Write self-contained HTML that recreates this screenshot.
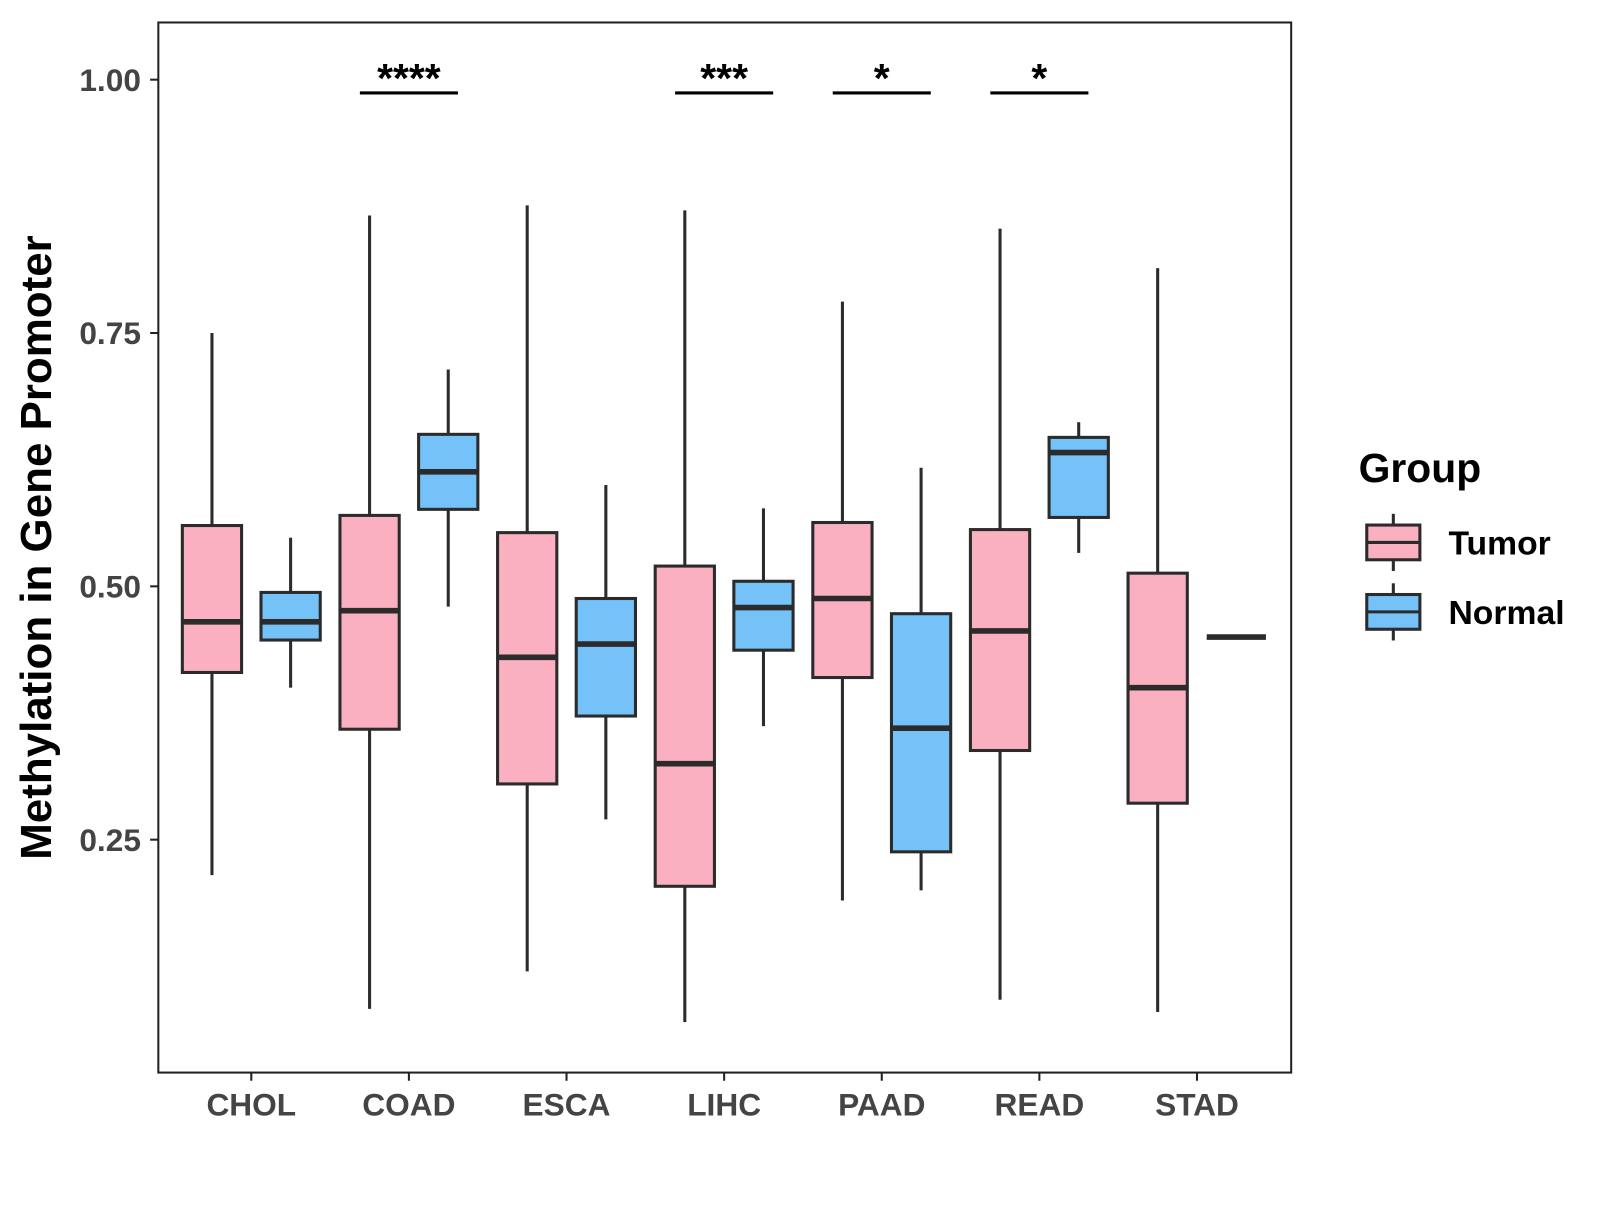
<!DOCTYPE html>
<html><head><meta charset="utf-8"><style>
body{margin:0;background:#fff;width:1600px;height:1200px;overflow:hidden}
text{font-family:"Liberation Sans",Arial,sans-serif;font-weight:bold}
</style></head><body>
<svg width="1600" height="1200" xmlns="http://www.w3.org/2000/svg">
<g id="chart" transform="scale(1.0215)">
<rect x="155" y="22" width="1109" height="1028" fill="#fff" stroke="#222" stroke-width="2"/>
<g id="marks"></g>
<text x="50" y="536" transform="rotate(-90 50 536)" font-size="43" text-anchor="middle" fill="#000">Methylation in Gene Promoter</text>
<text x="1330" y="472" font-size="40" fill="#000">Group</text>
</g>
</svg>
<script>
const categories=["CHOL","COAD","ESCA","LIHC","PAAD","READ","STAD"];
const tumorLow=[0.215,0.083,0.12,0.07,0.19,0.092,0.08];
const tumorQ1=[0.415,0.359,0.305,0.204,0.41,0.338,0.286];
const tumorMed=[0.465,0.476,0.43,0.325,0.488,0.456,0.40];
const tumorQ3=[0.56,0.57,0.553,0.52,0.563,0.556,0.513];
const tumorHigh=[0.75,0.866,0.876,0.871,0.781,0.853,0.814];
const normalLow=[0.40,0.48,0.27,0.362,0.20,0.533,0.45];
const normalQ1=[0.447,0.576,0.372,0.437,0.238,0.568,0.45];
const normalMed=[0.465,0.613,0.443,0.479,0.36,0.632,0.45];
const normalQ3=[0.494,0.65,0.488,0.505,0.473,0.647,0.45];
const normalHigh=[0.548,0.714,0.60,0.577,0.617,0.662,0.45];
const yTicks=[0.25,0.5,0.75,1.0];
const yTickLabels=["0.25","0.50","0.75","1.00"];
const sigCategories=["COAD","LIHC","PAAD","READ"];
const sigLabels=["****","***","*","*"];

const NS="http://www.w3.org/2000/svg";
const svg=document.getElementById('chart');
const g=document.getElementById('marks');
const y=v=>78+(1-v)*992;
const x=i=>246+i*154.3;
function el(tag,attrs,parent){const e=document.createElementNS(NS,tag);for(const k in attrs)e.setAttribute(k,attrs[k]);(parent||g).appendChild(e);return e;}

yTicks.forEach((t,i)=>{
  const tk=el('line',{x1:147,x2:155,y1:y(t),y2:y(t),stroke:'#222','stroke-width':2},svg);
  
  
  const tx=el('text',{x:138,y:y(t)+11,'font-size':31,'text-anchor':'end',fill:'#444'},svg);
  tx.textContent=yTickLabels[i];
  
  
});
categories.forEach((c,i)=>{
  const tk=el('line',{x1:x(i),x2:x(i),y1:1050,y2:1058,stroke:'#222','stroke-width':2},svg);
  
  
  const tx=el('text',{x:x(i),y:1092,'font-size':31,'text-anchor':'middle',fill:'#444'},svg);
  tx.textContent=c;
  
  
});
function box(cx,lo,q1,med,q3,hi,fill,name){
  const grp=el('g',{});
  
  
  el('line',{x1:cx,x2:cx,y1:y(hi),y2:y(q3),stroke:'#2b2b2b','stroke-width':3},grp);
  el('line',{x1:cx,x2:cx,y1:y(q1),y2:y(lo),stroke:'#2b2b2b','stroke-width':3},grp);
  el('rect',{x:cx-29,y:y(q3),width:58,height:Math.max(0,y(q1)-y(q3)),fill:fill,stroke:'#2b2b2b','stroke-width':3},grp);
  el('line',{x1:cx-29,x2:cx+29,y1:y(med),y2:y(med),stroke:'#2b2b2b','stroke-width':5.5},grp);
}
categories.forEach((c,i)=>{
  box(x(i)-38.5,tumorLow[i],tumorQ1[i],tumorMed[i],tumorQ3[i],tumorHigh[i],'#FBB0C2','tumor-box-'+c.toLowerCase());
  box(x(i)+38.5,normalLow[i],normalQ1[i],normalMed[i],normalQ3[i],normalHigh[i],'#74C2F8','normal-box-'+c.toLowerCase());
});
sigCategories.forEach((c,j)=>{
  const i=categories.indexOf(c);
  const ln=el('line',{x1:x(i)-48,x2:x(i)+48,y1:91,y2:91,stroke:'#000','stroke-width':3});
  
  
  const t=el('text',{x:x(i),y:90,'font-size':40,'text-anchor':'middle',fill:'#000'});
  t.textContent=sigLabels[j];
  
  
});
[["Tumor","#FBB0C2",531],["Normal","#74C2F8",599]].forEach(([lab,f,cy])=>{
  const lg=el('g',{},svg);
  
  
  el('line',{x1:1364,x2:1364,y1:cy-28,y2:cy+28,stroke:'#2b2b2b','stroke-width':3},lg);
  el('rect',{x:1338,y:cy-17,width:52,height:34,fill:f,stroke:'#2b2b2b','stroke-width':3},lg);
  el('line',{x1:1338,x2:1390,y1:cy,y2:cy,stroke:'#2b2b2b','stroke-width':3},lg);
  const t=el('text',{x:1418,y:cy+12,'font-size':33,fill:'#000'},lg);
  t.textContent=lab;
});
</script>
</body></html>
